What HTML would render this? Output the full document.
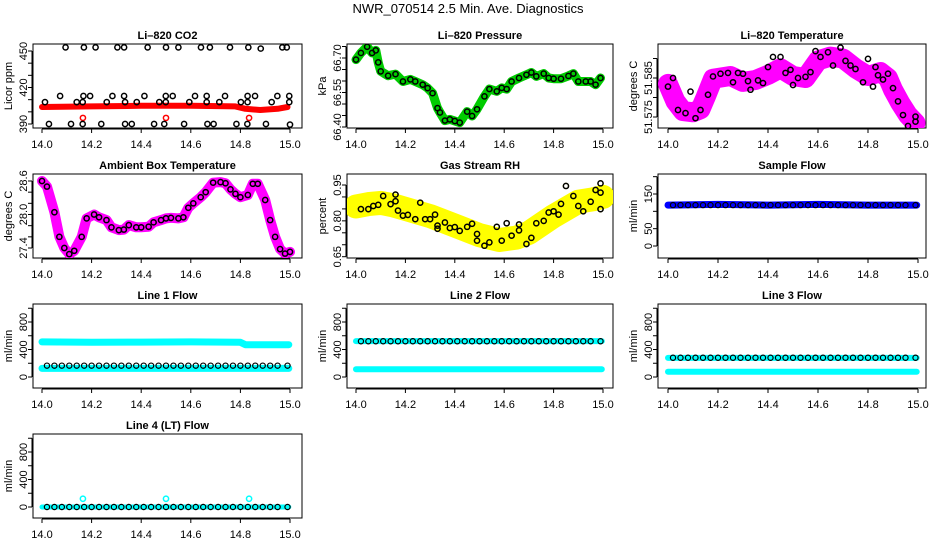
<!DOCTYPE html>
<html><head><meta charset="utf-8">
<style>
html,body{margin:0;padding:0;background:#fff;}
svg{display:block;font-family:"Liberation Sans",Arial,sans-serif;}
.tk{font-size:11px;fill:#000;}
.ttl{font-size:11px;font-weight:bold;fill:#000;}
</style></head>
<body>
<svg id="chart" width="936" height="540" viewBox="0 0 936 540">
<text x="468" y="13" text-anchor="middle" font-size="13">NWR_070514  2.5 Min. Ave. Diagnostics</text>
</svg>
<script>
// ---- data ----
const xTicks = [14.0,14.2,14.4,14.6,14.8,15.0];
const xTickLabels = ["14.0","14.2","14.4","14.6","14.8","15.0"];

// CO2
const co2HiT = [14.095,14.169,14.216,14.304,14.331,14.426,14.5,14.55,14.641,14.677,14.758,14.832,14.882,14.969,14.987];
const co2HiV = [453,453,453,453,453,453,453,453,453,453,453,453,452,453,453];
const co2M1T = [14.073,14.167,14.194,14.284,14.331,14.413,14.499,14.527,14.617,14.664,14.738,14.829,14.859,14.949,14.997];
const co2M1V = [413,413,413,413,413,413,413,413,413,413,413,413,413,413,413];
const co2M2T = [14.012,14.140,14.164,14.261,14.335,14.382,14.473,14.499,14.594,14.664,14.715,14.802,14.829,14.926,14.997];
const co2M2V = [408,408,408,408,408,408,408,408,408,408,408,408,408,408,408];
const co2LoT = [14.028,14.117,14.164,14.239,14.335,14.362,14.452,14.493,14.573,14.667,14.692,14.784,14.828,14.903,15.0];
const co2LoV = [390,390,390,390,390,390,390,390,390,390,390,390,390,390,389.5];
const co2RedT = [14.0,14.2,14.4,14.6,14.78,14.82,14.88,14.95,14.99];
const co2RedV = [404,404.5,405,405,404.5,402.5,401.5,402.5,404];
const co2RedOutT = [14.165,14.5,14.835];
const co2RedOutV = [395,395,395];

// Pressure
const prT = [14.0,14.02,14.045,14.065,14.08,14.09,14.1,14.13,14.16,14.19,14.22,14.24,14.27,14.29,14.31,14.33,14.34,14.36,14.38,14.4,14.42,14.45,14.47,14.49,14.52,14.54,14.57,14.59,14.61,14.63,14.66,14.69,14.71,14.73,14.76,14.78,14.8,14.83,14.86,14.88,14.9,14.93,14.95,14.97,14.99];
const prV = [66.693,66.722,66.749,66.722,66.733,66.681,66.642,66.623,66.63,66.598,66.607,66.598,66.584,66.569,66.547,66.482,66.463,66.428,66.433,66.426,66.419,66.467,66.448,66.477,66.533,66.565,66.555,66.57,66.565,66.598,66.613,66.627,66.637,66.62,66.632,66.613,66.61,66.61,66.622,66.632,66.598,66.598,66.598,66.584,66.613];

// Li-820 Temperature
const ltT = [14.0,14.02,14.04,14.07,14.09,14.11,14.13,14.16,14.18,14.21,14.24,14.26,14.28,14.3,14.32,14.33,14.36,14.38,14.4,14.42,14.45,14.47,14.49,14.5,14.52,14.55,14.57,14.59,14.61,14.64,14.66,14.69,14.71,14.73,14.75,14.78,14.8,14.82,14.83,14.84,14.86,14.88,14.9,14.92,14.94,14.96,14.99,14.99];
const ltV = [51.5828,51.585,51.5768,51.576,51.5815,51.5747,51.5768,51.5807,51.5854,51.5861,51.5863,51.5839,51.5863,51.5861,51.5842,51.582,51.5844,51.5837,51.5878,51.5904,51.5904,51.5863,51.5871,51.5832,51.585,51.5853,51.5865,51.5919,51.5904,51.5916,51.5882,51.5928,51.5894,51.5882,51.5873,51.5839,51.5899,51.5828,51.5878,51.5857,51.5846,51.5861,51.5824,51.579,51.5755,51.5727,51.5751,51.5738];
const ltBandT = [14.0,14.03,14.06,14.1,14.13,14.15,14.18,14.25,14.3,14.35,14.4,14.45,14.5,14.55,14.6,14.65,14.7,14.75,14.8,14.85,14.88,14.9,14.93,14.96,14.99];
const ltBandV = [51.5835,51.579,51.5765,51.5762,51.577,51.580,51.5848,51.5855,51.584,51.5845,51.5858,51.5875,51.5855,51.585,51.5895,51.5905,51.590,51.5875,51.5855,51.5865,51.585,51.582,51.5785,51.5755,51.5735];

// Ambient box temperature
const abT = [14.0,14.02,14.05,14.07,14.09,14.11,14.13,14.16,14.18,14.21,14.23,14.26,14.28,14.31,14.33,14.35,14.38,14.4,14.43,14.45,14.48,14.5,14.52,14.55,14.57,14.59,14.61,14.64,14.66,14.69,14.72,14.74,14.76,14.78,14.8,14.83,14.85,14.87,14.9,14.92,14.94,14.96,14.98,15.0];
const abV = [28.6,28.5,28.04,27.6,27.4,27.29,27.35,27.6,27.93,28.0,27.95,27.9,27.77,27.72,27.73,27.81,27.77,27.77,27.78,27.86,27.9,27.93,27.94,27.93,27.95,28.12,28.2,28.31,28.4,28.57,28.58,28.56,28.45,28.37,28.31,28.35,28.55,28.55,28.26,27.9,27.6,27.38,27.3,27.33];

// Gas stream RH
const rhT = [14.02,14.05,14.07,14.09,14.11,14.14,14.16,14.16,14.17,14.19,14.21,14.24,14.26,14.28,14.3,14.32,14.33,14.33,14.36,14.38,14.4,14.42,14.45,14.47,14.49,14.49,14.52,14.54,14.57,14.59,14.61,14.63,14.66,14.66,14.69,14.71,14.73,14.76,14.78,14.8,14.82,14.83,14.85,14.88,14.9,14.92,14.95,14.97,14.99,14.99,14.99];
const rhV = [0.849,0.849,0.862,0.867,0.904,0.87,0.91,0.882,0.843,0.822,0.825,0.807,0.876,0.807,0.807,0.826,0.78,0.767,0.793,0.77,0.774,0.758,0.775,0.788,0.745,0.717,0.696,0.71,0.775,0.717,0.79,0.738,0.785,0.76,0.703,0.729,0.79,0.8,0.835,0.84,0.826,0.871,0.946,0.904,0.862,0.84,0.88,0.929,0.957,0.918,0.849];
const rhBandT = [14.0,14.05,14.1,14.15,14.2,14.3,14.4,14.5,14.58,14.65,14.7,14.8,14.9,14.96,15.0];
const rhBandV = [0.86,0.87,0.875,0.865,0.85,0.82,0.78,0.74,0.72,0.73,0.75,0.82,0.88,0.89,0.9];

// Flows
const flowT = [14.02,14.05,14.08,14.11,14.14,14.17,14.2,14.23,14.26,14.29,14.32,14.35,14.38,14.41,14.44,14.47,14.5,14.53,14.56,14.59,14.62,14.65,14.68,14.71,14.74,14.77,14.8,14.83,14.86,14.89,14.92,14.95,14.99];
const sampleV = [118,118,118,118,118,118,118,118,118,118,118,118,118,118,118,118,118,118,118,118,118,118,118,118,118,118,118,118,118,118,118,118,118];
const sampleBandT = [14.0,14.2,14.4,14.6,14.8,14.995];
const sampleBandV = [118,120,118,120,118,118];
const line1V = [165,165,165,165,165,165,165,165,165,165,165,165,165,165,165,165,165,165,165,165,165,165,165,165,165,165,165,165,165,165,165,165,165];
const line1UpT = [14.0,14.2,14.4,14.6,14.8,14.82,14.995];
const line1UpV = [510,505,508,510,505,470,470];
const line1LoT = [14.0,14.5,14.995];
const line1LoV = [125,125,125];
const line2V = [520,520,520,520,520,520,520,520,520,520,520,520,520,520,520,520,520,520,520,520,520,520,520,520,520,520,520,520,520,520,520,520,520];
const line2UpT = [14.0,14.5,14.995];
const line2UpV = [522,522,522];
const line2LoT = [14.0,14.5,14.995];
const line2LoV = [112,112,112];
const line3V = [280,280,280,280,280,280,280,280,280,280,280,280,280,280,280,280,280,280,280,280,280,280,280,280,280,280,280,280,280,280,280,280,280];
const line3UpT = [14.0,14.5,14.995];
const line3UpV = [278,278,278];
const line3LoT = [14.0,14.5,14.995];
const line3LoV = [75,75,75];
const line4V = [0,0,0,0,0,0,0,0,0,0,0,0,0,0,0,0,0,0,0,0,0,0,0,0,0,0,0,0,0,0,0,0,0];
const line4BandT = [14.0,14.5,14.995];
const line4BandV = [0,0,0];
const line4OutT = [14.165,14.5,14.835];
const line4OutV = [120,120,120];

// ---- drawing ----
const svg = document.getElementById('chart');
const NS = 'http://www.w3.org/2000/svg';
function el(tag, attrs, parent){
  const e = document.createElementNS(NS, tag);
  for (const k in attrs) e.setAttribute(k, attrs[k]);
  (parent||svg).appendChild(e);
  return e;
}
const cols = [{l:33,r:302,a:42,b:290},{l:347,r:613,a:356,b:603},{l:658,r:926,a:668,b:918}];

function panel(c, r, name, title, ylab, v1, y1, v2, y2, yTicks, yLabels){
  const C = cols[c];
  const top = 44 + 130*r, bot = top + 84;
  const g = el('g', {});
  
  
  const sx = t => C.a + (t - 14) * (C.b - C.a);
  const k = (y2 - y1) / (v2 - v1);
  const sy = v => y1 + (v - v1) * k;
  const box = el('rect', {x:C.l, y:top, width:C.r-C.l, height:bot-top, fill:'none', stroke:'#000', 'stroke-width':1}, g);
  
  
  const tt = el('text', {x:(C.l+C.r)/2, y:top-5, 'text-anchor':'middle', class:'ttl'}, g);
  tt.textContent = title;
  
  
  // x axis
  const xa = el('g', {}, g);
  
  
  el('line', {x1:sx(xTicks[0]), x2:sx(xTicks[xTicks.length-1]), y1:bot+1, y2:bot+1, stroke:'#000'}, xa);
  xTicks.forEach((t,i) => {
    el('line', {x1:sx(t), x2:sx(t), y1:bot+1, y2:bot+5, stroke:'#000'}, xa);
    const lt = el('text', {x:sx(t), y:bot+20, 'text-anchor':'middle', class:'tk'}, xa);
    lt.textContent = xTickLabels[i];
  });
  // y axis
  const ya = el('g', {}, g);
  
  
  el('line', {x1:C.l-1, x2:C.l-1, y1:sy(yTicks[0]), y2:sy(yTicks[yTicks.length-1]), stroke:'#000'}, ya);
  yTicks.forEach((v,i) => {
    el('line', {x1:C.l-5, x2:C.l-1, y1:sy(v), y2:sy(v), stroke:'#000'}, ya);
    if (yLabels[i]) {
      const lt = el('text', {x:C.l-6, y:sy(v), 'text-anchor':'middle', class:'tk', transform:'rotate(-90 '+(C.l-6)+' '+sy(v)+')'}, ya);
      lt.textContent = yLabels[i];
    }
  });
  const yl = el('text', {x:C.l-21, y:(top+bot)/2, 'text-anchor':'middle', class:'tk', transform:'rotate(-90 '+(C.l-21)+' '+((top+bot)/2)+')'}, g);
  yl.textContent = ylab;
  
  
  const clip = 'clip-' + name;
  const cp = el('clipPath', {id:clip}, g);
  el('rect', {x:C.l, y:top, width:C.r-C.l, height:bot-top}, cp);
  const plot = el('g', {'clip-path':'url(#'+clip+')'}, g);
  return {sx, sy, plot, name};
}
function band(P, T, V, color, w, nm){
  const pts = T.map((t,i) => P.sx(t).toFixed(1) + ',' + P.sy(V[i]).toFixed(1)).join(' ');
  const pl = el('polyline', {points:pts, fill:'none', stroke:color, 'stroke-width':w, 'stroke-linejoin':'round', 'stroke-linecap':'round'}, P.plot);
  
  
}
function dots(P, T, V, color, nm, sw){
  const g = el('g', {}, P.plot);
  
  
  T.forEach((t,i) => {
    const c = el('circle', {cx:P.sx(t), cy:P.sy(V[i]), r:2.6, fill:'none', stroke:color, 'stroke-width':sw||1.5}, g);
    
    
  });
}

// CO2
let P = panel(0,0,'co2','Li\u2013820 CO2','Licor ppm',390,124,450,51,[390,400,410,420,430,440,450],['390','','','420','','','450']);
band(P, co2RedT, co2RedV, '#ff0000', 6, 'red-series');
dots(P, co2RedOutT, co2RedOutV, '#ff0000', 'red-outliers');
dots(P, co2HiT, co2HiV, '#000', 'black-450');
dots(P, co2M1T, co2M1V, '#000', 'black-410');
dots(P, co2M2T, co2M2V, '#000', 'black-400');
dots(P, co2LoT, co2LoV, '#000', 'black-390');

// Pressure
P = panel(1,0,'pressure','Li\u2013820 Pressure','kPa',66.40,127,66.70,58,[66.40,66.45,66.50,66.55,66.60,66.65,66.70,66.75],['66.40','','','66.55','','','66.70','']);
band(P, prT, prV, '#00cc00', 9, 'green-series');
dots(P, prT, prV, '#000', 'black-series');

// Li-820 temperature
P = panel(2,0,'li820-temperature','Li\u2013820 Temperature','degrees C',51.575,117,51.585,78,[51.575,51.580,51.585,51.590],['51.575','','51.585','']);
band(P, ltBandT, ltBandV, '#ff00ff', 20, 'magenta-series');
dots(P, ltT, ltV, '#000', 'black-series');

// Ambient
P = panel(0,1,'ambient-temperature','Ambient Box Temperature','degrees C',27.4,248,28.6,181,[27.4,27.6,27.8,28.0,28.2,28.4,28.6],['27.4','','','28.0','','','28.6']);
band(P, abT, abV, '#ff00ff', 10, 'magenta-series');
dots(P, abT, abV, '#000', 'black-series');

// RH
P = panel(1,1,'gas-stream-rh','Gas Stream RH','percent',0.65,256.7,0.95,185,[0.65,0.70,0.75,0.80,0.85,0.90,0.95],['0.65','','','0.80','','','0.95']);
band(P, rhBandT, rhBandV, '#ffff00', 24, 'yellow-series');
dots(P, rhT, rhV, '#ffff00', 'yellow-points', 1.2);
dots(P, rhT, rhV, '#000', 'black-series');

// Sample flow
P = panel(2,1,'sample-flow','Sample Flow','ml/min',0,246,150,194,[0,50,100,150,200],['0','50','','150','']);
band(P, sampleBandT, sampleBandV, '#0000ff', 7, 'blue-series');
dots(P, flowT, sampleV, '#000', 'black-series', 1.2);

// Line flows
const fT = [0,200,400,600,800,1000], fL = ['0','','400','','800',''];
P = panel(0,2,'line1-flow','Line 1 Flow','ml/min',0,377,800,322,fT,fL);
band(P, line1UpT, line1UpV, '#00ffff', 7, 'cyan-upper');
band(P, line1LoT, line1LoV, '#00ffff', 7, 'cyan-lower');
dots(P, flowT, line1V, '#000', 'black-series', 1.2);

P = panel(1,2,'line2-flow','Line 2 Flow','ml/min',0,377,800,322,fT,fL);
band(P, line2UpT, line2UpV, '#00ffff', 6, 'cyan-upper');
band(P, line2LoT, line2LoV, '#00ffff', 6, 'cyan-lower');
dots(P, flowT, line2V, '#000', 'black-series', 1.2);

P = panel(2,2,'line3-flow','Line 3 Flow','ml/min',0,377,800,322,fT,fL);
band(P, line3UpT, line3UpV, '#00ffff', 6, 'cyan-upper');
band(P, line3LoT, line3LoV, '#00ffff', 6, 'cyan-lower');
dots(P, flowT, line3V, '#000', 'black-series', 1.2);

P = panel(0,3,'line4-flow','Line 4 (LT) Flow','ml/min',0,507,800,452,fT,fL);
band(P, line4BandT, line4BandV, '#00ffff', 5, 'cyan-series');
dots(P, line4OutT, line4OutV, '#00ffff', 'cyan-outliers');
dots(P, flowT, line4V, '#000', 'black-series', 1.2);
</script>
</body></html>
